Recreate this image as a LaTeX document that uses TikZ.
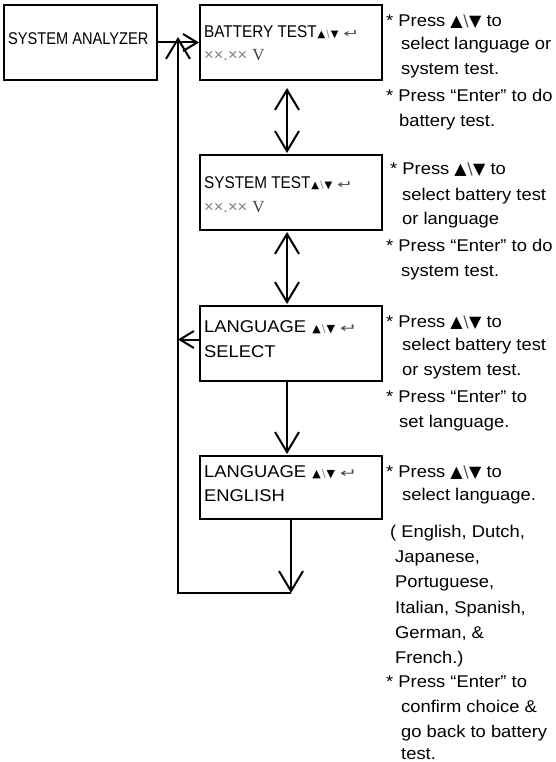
\documentclass[tikz,border=0pt]{standalone}
\usepackage{fontspec}
\usepackage{xcolor}
\usepackage{graphicx}
\setmainfont{Liberation Sans}
\newfontfamily\notefont{Liberation Sans}[FakeStretch=1.08]
\newfontfamily\condfont{Liberation Sans}[FakeStretch=0.9]
\newfontfamily\safont{Liberation Sans}[FakeStretch=0.86]
\newfontfamily\symfont{DejaVu Sans}
\newfontfamily\seriffont{Liberation Serif}
\usetikzlibrary{arrows.meta}
\newcommand{\boxsyms}[1]{{\symfont\fontsize{#1}{12}\selectfont\hspace{1pt}▲\hspace{1pt}\textcolor{gray}{\textbackslash}\hspace{1pt}▼\hspace{5pt}\textcolor{black!70}{\scalebox{1.9}[1.1]{↵}}}}
\newcommand{\notesyms}{{\symfont\fontsize{16}{18}\selectfont ▲\hspace{0.5pt}\textcolor{black!70}{\textbackslash}\hspace{0.5pt}▼}}
\newcommand{\meterval}{{\fontsize{16.5}{17}\selectfont\color{gray}××.××}\hspace{5pt}{\seriffont\fontsize{17}{19}\selectfont\color{black!75}V}}
\tikzset{
  panel/.style={draw, line width=2pt, inner sep=0pt},
  cond/.style={anchor=base west, inner sep=0pt, font=\condfont\fontsize{17}{19}\selectfont},
  plain/.style={anchor=base west, inner sep=0pt, font=\notefont\fontsize{17}{20}\selectfont},
  meter/.style={anchor=base west, inner sep=0pt},
  note/.style={anchor=base west, inner sep=0pt, font=\notefont\fontsize{17}{20}\selectfont},
  bigarr/.style={line width=2pt, -{Straight Barb[length=20pt,width=24pt,line width=2pt]}},
  dblarr/.style={line width=2pt, {Straight Barb[length=20pt,width=24pt,line width=2pt]}-{Straight Barb[length=20pt,width=24pt,line width=2pt]}},
  smallarr/.style={line width=2pt, -{Straight Barb[length=14pt,width=17pt,line width=2pt]}}
}
\begin{document}
\begin{tikzpicture}[x=1pt,y=-1pt]
\useasboundingbox (0,0) rectangle (556,762);
% panels
\node[panel, minimum width=153pt, minimum height=75pt] (sa) at (80.5,42.5) {};
\node[panel, minimum width=182pt, minimum height=75pt] (bt) at (291,42.5) {};
\node[panel, minimum width=182pt, minimum height=75pt] (st) at (291,192.5) {};
\node[panel, minimum width=182pt, minimum height=75pt] (ls) at (291,343.5) {};
\node[panel, minimum width=182pt, minimum height=63pt] (le) at (291,487.5) {};
% panel texts
\node[cond, font=\safont\fontsize{17}{19}\selectfont] (satxt) at (8,45) {SYSTEM ANALYZER};
\node[cond] (bttxt) at (204,38) {BATTERY TEST\boxsyms{10}};
\node[meter] (btval) at (204,61) {\meterval};
\node[cond] (sttxt) at (204,188) {SYSTEM TEST\boxsyms{10}};
\node[meter] (stval) at (204,212) {\meterval};
\node[plain] (lstxt) at (204,332) {LANGUAGE \boxsyms{11}};
\node[plain] (lssel) at (204,357) {SELECT};
\node[plain] (letxt) at (204,477) {LANGUAGE \boxsyms{11}};
\node[plain] (leeng) at (204,501) {ENGLISH};
% connectors
\coordinate (c1) at (291,593);
\coordinate (c2) at (178,593);
\coordinate (c3) at (178,37);
\draw[smallarr] (sa.east) -- (bt.west);
\draw[dblarr] ([xshift=-4pt,yshift=-7pt]bt.south) -- ([xshift=-4pt,yshift=1pt]st.north);
\draw[dblarr] ([xshift=-4pt,yshift=-1pt]st.south) -- ([xshift=-4pt,yshift=1pt]ls.north);
\draw[bigarr] ([xshift=-4pt]ls.south) -- ([xshift=-4pt,yshift=1pt]le.north);
\draw[smallarr] ([yshift=4pt]ls.west) -- ([yshift=4pt]ls.west -| c2);
\draw[bigarr] (le.south) -- (c1);
\draw[bigarr] (c1) -- (c2) -- (c3);
% notes group 1
\node[note] (n1a) at (386,27) {* Press \notesyms{} to};
\node[note] (n1b) at (401,50) {select language or};
\node[note] (n1c) at (401,75) {system test.};
\node[note] (n1d) at (386,102) {* Press “Enter” to do};
\node[note] (n1e) at (399,127) {battery test.};
% notes group 2
\node[note] (n2a) at (390,175) {* Press \notesyms{} to};
\node[note] (n2b) at (402,200) {select battery test};
\node[note] (n2c) at (402,224) {or language};
\node[note] (n2d) at (386,251) {* Press “Enter” to do};
\node[note] (n2e) at (401,276) {system test.};
% notes group 3
\node[note] (n3a) at (386,327) {* Press \notesyms{} to};
\node[note] (n3b) at (402,350) {select battery test};
\node[note] (n3c) at (402,375) {or system test.};
\node[note] (n3d) at (386,402) {* Press “Enter” to};
\node[note] (n3e) at (399,427) {set language.};
% notes group 4
\node[note] (n4a) at (386,477) {* Press \notesyms{} to};
\node[note] (n4b) at (402,500) {select language.};
\node[note] (n4c) at (390,537) {( English, Dutch,};
\node[note] (n4d) at (395,562) {Japanese,};
\node[note] (n4e) at (395,587) {Portuguese,};
\node[note] (n4f) at (395,613) {Italian, Spanish,};
\node[note] (n4g) at (395,638) {German, \&};
\node[note] (n4h) at (395,663) {French.)};
\node[note] (n4i) at (386,687) {* Press “Enter” to};
\node[note] (n4j) at (401,712) {confirm choice \&};
\node[note] (n4k) at (401,737) {go back to battery};
\node[note] (n4l) at (401,759) {test.};
\end{tikzpicture}
\end{document}
